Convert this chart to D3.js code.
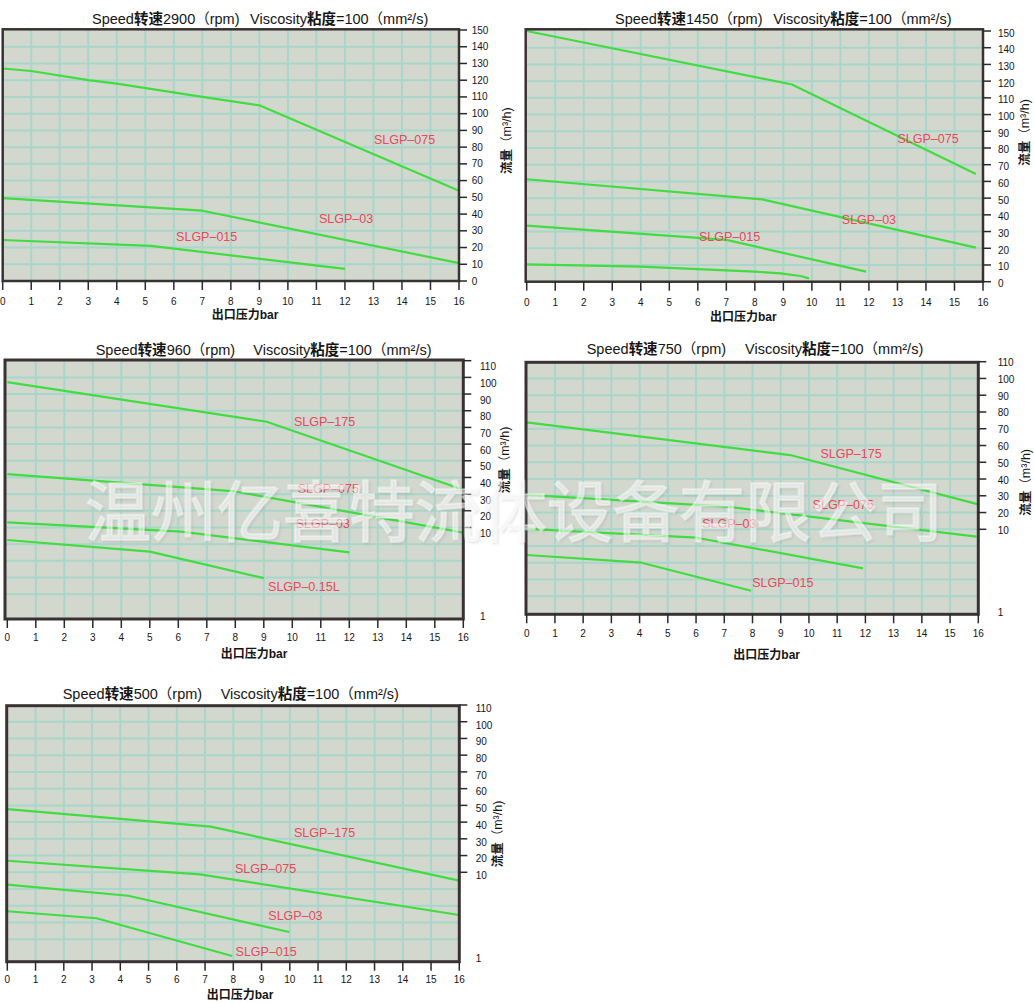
<!DOCTYPE html>
<html><head><meta charset="utf-8">
<script src="https://cdn.jsdelivr.net/npm/d3@7"></script>
<style>body{margin:0;background:#fff} svg{display:block}</style>
</head><body>
<svg id="c" width="1034" height="1003"></svg>
<script>
// ---------- data ----------
const pressureTicks = [0,1,2,3,4,5,6,7,8,9,10,11,12,13,14,15,16];
const flowTicksHigh = [0,10,20,30,40,50,60,70,80,90,100,110,120,130,140,150];
const flowTicksLow = [10,20,30,40,50,60,70,80,90,100,110];
const flowTickLowMin = [1];

const rpm2900_SLGP075 = [[0,127],[1,125.5],[3,120],[4,118],[7,110],[9,105],[16,54]];
const rpm2900_SLGP03  = [[0,49.5],[7,42],[16,10.7]];
const rpm2900_SLGP015 = [[0,24.5],[5.2,21],[12,7.2]];

const rpm1450_SLGP075 = [[0,150],[9.3,118],[15.75,64.5]];
const rpm1450_SLGP03  = [[0,61.3],[8.25,49.3],[15.75,20.4]];
const rpm1450_SLGP015 = [[0,33.5],[7,25],[11.9,6]];
const rpm1450_small   = [[0,10.4],[4,9],[8,6],[8.9,5],[9.6,3.4],[9.9,2]];

const rpm960_SLGP175  = [[0,97.2],[9.1,73.4],[16,32.6]];
const rpm960_SLGP075  = [[0,42],[8,31.6],[16,9.44]];
const rpm960_SLGP03   = [[0,13.1],[6.1,9.55],[12,7.3]];
const rpm960_SLGP015L = [[0,8.65],[5,7.39],[9,4.52]];

const rpm750_SLGP175 = [[0,73.8],[9.33,54.3],[16,24.9]];
const rpm750_SLGP075 = [[0,30.5],[7.08,23.5],[15.94,9.2]];
const rpm750_SLGP03  = [[0,10.2],[6.02,9.08],[11.92,5.74]];
const rpm750_SLGP015 = [[0,7.19],[4.07,6.35],[7.95,3.29]];

const rpm500_SLGP175 = [[0,47.8],[7.2,37.3],[16,9.09]];
const rpm500_SLGP075 = [[0,16.9],[6.82,9.78],[16,5.35]];
const rpm500_SLGP03  = [[0,8.65],[4.28,7.45],[9.98,3.5]];
const rpm500_SLGP015 = [[0,5.76],[3.16,5.0],[7.96,0.89]];

const watermarkText = "温州亿喜特流体设备有限公司";

// ---------- layout ----------
const charts = [
  {speed:"2900", scale:"high", xr:[2.7,459], yr:[281,30], frame:[2.7,29.3,459,281], fw:2.5,
   tA:[92,24], tB:[250,24], xt:[245,319], yt:[506.7,140.7], xtb:305.3, ydx:12.7, ydy:0,
   series:[{d:rpm2900_SLGP075,l:"SLGP–075",at:[13.02,81.6]},{d:rpm2900_SLGP03,l:"SLGP–03",at:[11.09,34.4]},{d:rpm2900_SLGP015,l:"SLGP–015",at:[6.08,24.2]}]},
  {speed:"1450", scale:"high", xr:[526.7,983], yr:[281.7,31], frame:[525.7,29.3,983,281.7], fw:2.5,
   tA:[615,24.3], tB:[773.3,24.3], xt:[743.3,320.7], yt:[1025,132.5], xtb:306.3, ydx:15, ydy:2,
   series:[{d:rpm1450_SLGP075,l:"SLGP–075",at:[13.0,82.7]},{d:rpm1450_SLGP03,l:"SLGP–03",at:[11.05,34.8]},{d:rpm1450_SLGP015,l:"SLGP–015",at:[6.04,24.1]},{d:rpm1450_small,l:null}]},
  {speed:"960", scale:"low", xr:[7.3,463.3], yr:[610.7,527.5,360.7], frame:[5,360,463.3,619], fw:3,
   tA:[95.7,355], tB:[253.3,355], xt:[254,657.7], yt:[505,460], xtb:641.3, ydx:16.7, ydy:6,
   series:[{d:rpm960_SLGP175,l:"SLGP–175",at:[10.06,70.7]},{d:rpm960_SLGP075,l:"SLGP–075",at:[10.19,30.4]},{d:rpm960_SLGP03,l:"SLGP–03",at:[10.12,9.97]},{d:rpm960_SLGP015L,l:"SLGP–0.15L",at:[9.15,3.1]}]},
  {speed:"750", scale:"low", xr:[526.7,978.3], yr:[611.7,529.3,361.7], frame:[526,362.3,978.3,614.3], fw:3,
   tA:[586.7,354.3], tB:[745,354.3], xt:[766.7,659], yt:[1026,482.3], xtb:637, ydx:19.4, ydy:1,
   series:[{d:rpm750_SLGP175,l:"SLGP–175",at:[10.41,52.7]},{d:rpm750_SLGP075,l:"SLGP–075",at:[10.13,22.2]},{d:rpm750_SLGP03,l:"SLGP–03",at:[6.22,10.9]},{d:rpm750_SLGP015,l:"SLGP–015",at:[7.99,3.72]}]},
  {speed:"500", scale:"low", xr:[7.3,459.3], yr:[955,872.3,705], frame:[6.7,705.7,459.3,961.7], fw:3,
   tA:[62.7,699.3], tB:[220.7,699.3], xt:[240,999.3], yt:[497.3,834], xtb:983, ydx:16.4, ydy:3.3,
   series:[{d:rpm500_SLGP175,l:"SLGP–175",at:[10.15,31.0]},{d:rpm500_SLGP075,l:"SLGP–075",at:[8.06,9.9]},{d:rpm500_SLGP03,l:"SLGP–03",at:[9.24,4.86]},{d:rpm500_SLGP015,l:"SLGP–015",at:[8.08,0.87]}]}
];

const C = {bg:"#d3d8cf", grid:"#a8d6ca", frame:"#3a3232", curve:"#40dc40", label:"#e8475c", text:"#151515", tick:"#2a2a2a"};
const FONT = "'Liberation Sans', Arial, 'Noto Sans CJK SC', sans-serif";

const svg = d3.select("#c");
svg.append("rect").attr("width",1034).attr("height",1003).attr("fill","#fff");
const defs = svg.append("defs");
const f = defs.append("filter").attr("id","wmShadow").attr("x","-5%").attr("y","-20%").attr("width","110%").attr("height","140%");
f.append("feDropShadow").attr("dx",1.5).attr("dy",1.5).attr("stdDeviation",0.8)
  .attr("flood-color","#787878").attr("flood-opacity",0.35);

function drawChart(cfg){
  const g = svg.append("g");
  const x = d3.scaleLinear().domain([0,16]).range(cfg.xr);
  const y = cfg.scale==="high"
    ? d3.scaleLinear().domain([0,150]).range(cfg.yr)
    : d3.scaleLinear().domain([1,10,110]).range(cfg.yr);
  const [fx0,fy0,fx1,fy1] = cfg.frame;

  g.append("rect").attr("x",fx0).attr("y",fy0).attr("width",fx1-fx0).attr("height",fy1-fy0).attr("fill",C.bg);

  g.selectAll("line.vg").data(pressureTicks.filter(t=>t>0&&t<16)).join("line")
    .attr("x1",d=>x(d)).attr("x2",d=>x(d)).attr("y1",fy0).attr("y2",fy1)
    .attr("stroke",C.grid).attr("stroke-width",2);

  let hg, yt;
  if(cfg.scale==="high"){
    yt = flowTicksHigh;
    hg = flowTicksHigh.filter(t=>t>0&&t<150).map(t=>y(t));
  } else {
    yt = flowTicksLow;
    hg = flowTicksLow.filter(t=>t<110).map(t=>y(t));
    const step = y(10)-y(20);
    for(let k=1;k<=4;k++) hg.push(y(10)+k*step);
  }
  g.selectAll("line.hg").data(hg).join("line")
    .attr("x1",fx0).attr("x2",fx1).attr("y1",d=>d).attr("y2",d=>d)
    .attr("stroke",C.grid).attr("stroke-width",2);

  const line = d3.line().x(d=>x(d[0])).y(d=>y(d[1]));
  cfg.series.forEach(s=>{
    g.append("path").attr("d",line(s.d)).attr("fill","none")
      .attr("stroke",C.curve).attr("stroke-width",2.2).attr("stroke-linejoin","round");
  });

  g.append("rect").attr("x",fx0).attr("y",fy0).attr("width",fx1-fx0).attr("height",fy1-fy0)
    .attr("fill","none").attr("stroke",C.frame).attr("stroke-width",cfg.fw);

  g.selectAll("line.xt").data(pressureTicks).join("line")
    .attr("x1",d=>x(d)).attr("x2",d=>x(d)).attr("y1",fy1).attr("y2",fy1+9)
    .attr("stroke",C.tick).attr("stroke-width",1.5);
  g.selectAll("text.xl").data(pressureTicks).join("text")
    .attr("x",d=>x(d)).attr("y",cfg.xtb).attr("text-anchor","middle")
    .attr("font-family",FONT).attr("font-size",10).attr("fill",C.text).text(d=>d);

  g.selectAll("line.yt").data(yt).join("line")
    .attr("x1",fx1).attr("x2",fx1+8).attr("y1",d=>y(d)).attr("y2",d=>y(d))
    .attr("stroke",C.tick).attr("stroke-width",1.5);
  const ylabels = cfg.scale==="high" ? yt : yt.concat(flowTickLowMin);
  g.selectAll("text.yl").data(ylabels).join("text")
    .attr("x",fx1+cfg.ydx).attr("y",d=>y(d)+cfg.ydy).attr("dy","0.35em")
    .attr("font-family",FONT).attr("font-size",10).attr("fill",C.text).text(d=>d);

  cfg.series.filter(s=>s.l).forEach(s=>{
    g.append("text").attr("x",x(s.at[0])).attr("y",y(s.at[1]))
      .attr("font-family",FONT).attr("font-size",12.5).attr("fill",C.label).text(s.l);
  });

  const tA = g.append("text").attr("x",cfg.tA[0]).attr("y",cfg.tA[1])
    .attr("font-family",FONT).attr("font-size",14.5).attr("fill",C.text);
  tA.append("tspan").text("Speed");
  tA.append("tspan").attr("font-weight","bold").text("转速");
  tA.append("tspan").text(cfg.speed+"（rpm)");
  const tB = g.append("text").attr("x",cfg.tB[0]).attr("y",cfg.tB[1])
    .attr("font-family",FONT).attr("font-size",14.5).attr("fill",C.text);
  tB.append("tspan").text("Viscosity");
  tB.append("tspan").attr("font-weight","bold").text("粘度");
  tB.append("tspan").text("=100（mm²/s)");

  g.append("text").attr("x",cfg.xt[0]).attr("y",cfg.xt[1]).attr("text-anchor","middle")
    .attr("font-family",FONT).attr("font-size",12).attr("font-weight","bold").attr("fill",C.text)
    .text("出口压力bar");
  const yT = g.append("text").attr("transform",`translate(${cfg.yt[0]},${cfg.yt[1]}) rotate(-90)`)
    .attr("text-anchor","middle").attr("dy","0.35em")
    .attr("font-family",FONT).attr("font-size",12.5).attr("fill",C.text);
  yT.append("tspan").attr("font-weight","bold").text("流量");
  yT.append("tspan").text("（m³/h)");
}

charts.forEach(drawChart);

// watermark
svg.append("text").attr("x",514).attr("y",536).attr("text-anchor","middle")
  .attr("font-family","'Noto Sans CJK SC', sans-serif").attr("font-size",66)
  .attr("fill","rgba(255,255,255,0.5)").attr("stroke","rgba(255,255,255,0.35)").attr("stroke-width",2)
  .attr("filter","url(#wmShadow)")
  .text(watermarkText);
</script>
</body></html>
